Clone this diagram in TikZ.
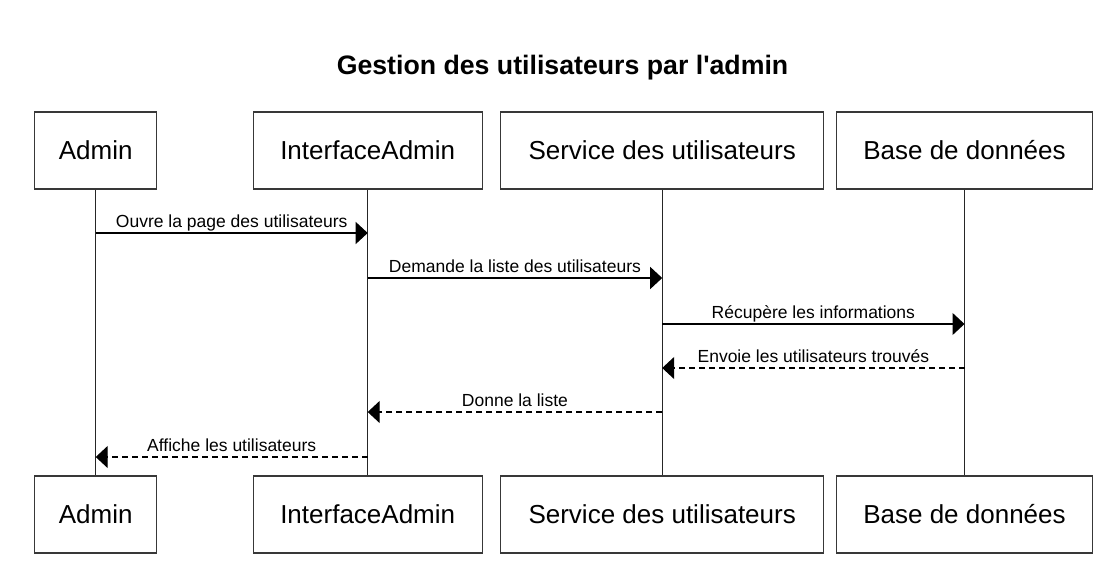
\documentclass[tikz,border=0pt]{standalone}
\usepackage{fontspec}
\setmainfont{Liberation Sans}
\usetikzlibrary{arrows.meta}
\begin{document}
\begin{tikzpicture}[x=1pt,y=-1pt,
  actor/.style={draw=black!78, line width=1.4pt, minimum height=77pt, inner sep=0pt,
    font=\fontsize{26}{30}\selectfont, anchor=center},
  life/.style={line width=1.3pt, draw=black!85},
  msg/.style={line width=1.3pt, -{Triangle[length=12pt,width=22pt]}},
  ret/.style={msg, dash pattern=on 6pt off 4pt},
  lbl/.style={font=\fontsize{17.5}{20}\selectfont, anchor=base, inner sep=0pt}
]
\useasboundingbox (0,0) rectangle (1108,562);
\node[font=\bfseries\fontsize{26.7}{30}\selectfont, anchor=base] (title) at (562.5,74.5) {Gestion des utilisateurs par l\textquotesingle admin};

\node[actor, minimum width=122pt] (a1) at (95.7,150.5) {Admin};
\node[actor, minimum width=229pt] (i1) at (367.7,150.5) {InterfaceAdmin};
\node[actor, minimum width=323pt] (s1) at (662.2,150.5) {Service des utilisateurs};
\node[actor, minimum width=256pt] (b1) at (964.5,150.5) {Base de données};

\node[actor, minimum width=122pt] (a2) at (95.7,514.5) {Admin};
\node[actor, minimum width=229pt] (i2) at (367.7,514.5) {InterfaceAdmin};
\node[actor, minimum width=323pt] (s2) at (662.2,514.5) {Service des utilisateurs};
\node[actor, minimum width=256pt] (b2) at (964.5,514.5) {Base de données};

\draw[life] (a1.south) -- (a2.north);
\draw[life] (i1.south) -- (i2.north);
\draw[life] (s1.south) -- (s2.north);
\draw[life] (b1.south) -- (b2.north);

\coordinate (m1a) at (a1.south |- 0,233);
\coordinate (m1b) at (i1.south |- 0,233);
\coordinate (m2a) at (i1.south |- 0,278);
\coordinate (m2b) at (s1.south |- 0,278);
\coordinate (m3a) at (s1.south |- 0,324);
\coordinate (m3b) at (b1.south |- 0,324);
\coordinate (m4a) at (b1.south |- 0,368);
\coordinate (m4b) at (s1.south |- 0,368);
\coordinate (m5a) at (s1.south |- 0,412);
\coordinate (m5b) at (i1.south |- 0,412);
\coordinate (m6a) at (i1.south |- 0,457);
\coordinate (m6b) at (a1.south |- 0,457);

\draw[msg] (m1a) -- node[lbl, yshift=5.5pt] (l1) {Ouvre la page des utilisateurs} (m1b);
\draw[msg] (m2a) -- node[lbl, yshift=5.5pt] (l2) {Demande la liste des utilisateurs} (m2b);
\draw[msg] (m3a) -- node[lbl, yshift=5.5pt] (l3) {Récupère les informations} (m3b);
\draw[ret] (m4a) -- node[lbl, yshift=5.5pt] (l4) {Envoie les utilisateurs trouvés} (m4b);
\draw[ret] (m5a) -- node[lbl, yshift=5.5pt] (l5) {Donne la liste} (m5b);
\draw[ret] (m6a) -- node[lbl, yshift=5.5pt] (l6) {Affiche les utilisateurs} (m6b);
\end{tikzpicture}
\end{document}
